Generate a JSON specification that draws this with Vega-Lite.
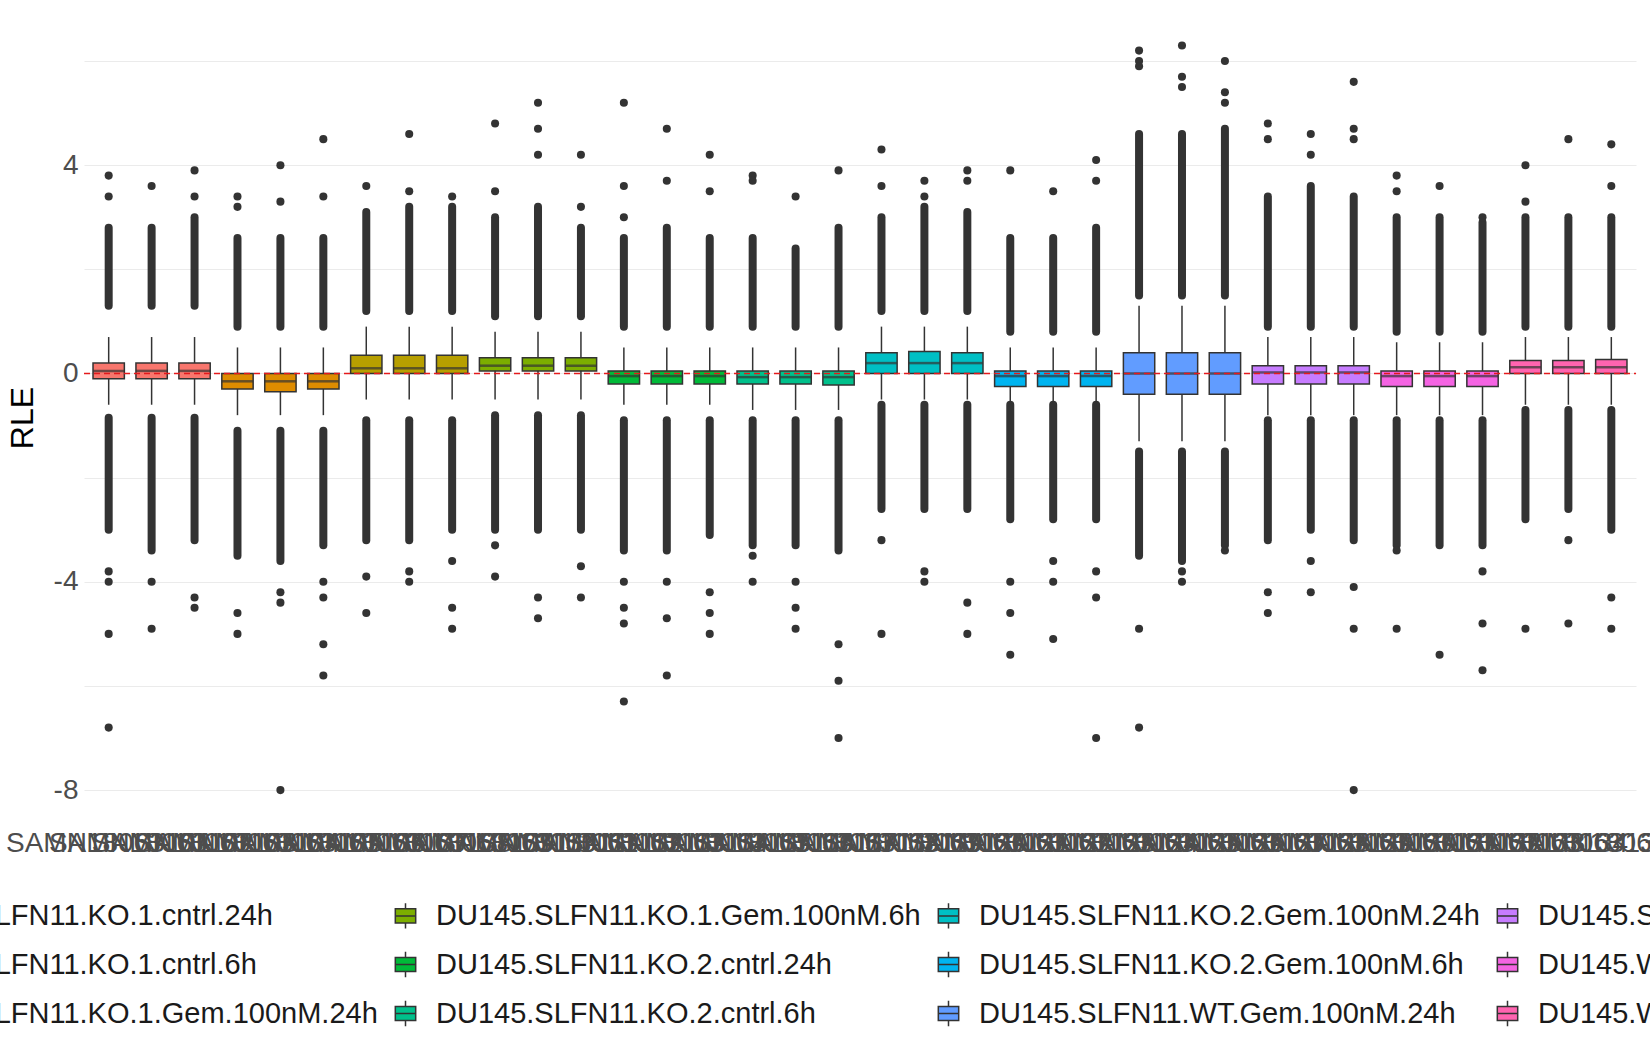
{
  "$schema": "https://vega.github.io/schema/vega-lite/v6.json",
  "width": 1552,
  "height": 815,
  "autosize": {"type": "none"},
  "padding": {"left": 84, "top": 10, "right": 14, "bottom": 225},
  "background": "#ffffff",
  "config": {
    "font": "Liberation Sans",
    "view": {"stroke": null},
    "axis": {"gridColor": "#EBEBEB", "gridWidth": 1.2, "domain": false, "ticks": false, "labelFontSize": 28, "labelColor": "#4D4D4D"}
  },
  "datasets": {
    "boxes": [
      {"s":"SAMN18063101","g":"DU145.SLFN11.KO.1.cntrl.24h","q1":-0.1,"med":0.05,"q3":0.2,"wl":-0.6,"wh":0.7,"dl0":-0.85,"dh0":1.3,"dl":-3.0,"dh":2.8},
      {"s":"SAMN18063102","g":"DU145.SLFN11.KO.1.cntrl.24h","q1":-0.1,"med":0.05,"q3":0.2,"wl":-0.6,"wh":0.7,"dl0":-0.85,"dh0":1.3,"dl":-3.4,"dh":2.8},
      {"s":"SAMN18063103","g":"DU145.SLFN11.KO.1.cntrl.24h","q1":-0.1,"med":0.05,"q3":0.2,"wl":-0.6,"wh":0.7,"dl0":-0.85,"dh0":1.3,"dl":-3.2,"dh":3.0},
      {"s":"SAMN18063104","g":"DU145.SLFN11.KO.1.cntrl.6h","q1":-0.3,"med":-0.15,"q3":0.0,"wl":-0.8,"wh":0.5,"dl0":-1.1,"dh0":0.9,"dl":-3.5,"dh":2.6},
      {"s":"SAMN18063105","g":"DU145.SLFN11.KO.1.cntrl.6h","q1":-0.35,"med":-0.15,"q3":0.0,"wl":-0.8,"wh":0.5,"dl0":-1.1,"dh0":0.9,"dl":-3.6,"dh":2.6},
      {"s":"SAMN18063106","g":"DU145.SLFN11.KO.1.cntrl.6h","q1":-0.3,"med":-0.15,"q3":0.0,"wl":-0.8,"wh":0.5,"dl0":-1.1,"dh0":0.9,"dl":-3.3,"dh":2.6},
      {"s":"SAMN18063107","g":"DU145.SLFN11.KO.1.Gem.100nM.24h","q1":0.0,"med":0.1,"q3":0.35,"wl":-0.5,"wh":0.9,"dl0":-0.9,"dh0":1.2,"dl":-3.2,"dh":3.1},
      {"s":"SAMN18063108","g":"DU145.SLFN11.KO.1.Gem.100nM.24h","q1":0.0,"med":0.1,"q3":0.35,"wl":-0.5,"wh":0.9,"dl0":-0.9,"dh0":1.2,"dl":-3.2,"dh":3.2},
      {"s":"SAMN18063109","g":"DU145.SLFN11.KO.1.Gem.100nM.24h","q1":0.0,"med":0.1,"q3":0.35,"wl":-0.5,"wh":0.9,"dl0":-0.9,"dh0":1.2,"dl":-3.0,"dh":3.2},
      {"s":"SAMN18063110","g":"DU145.SLFN11.KO.1.Gem.100nM.6h","q1":0.05,"med":0.15,"q3":0.3,"wl":-0.5,"wh":0.8,"dl0":-0.8,"dh0":1.1,"dl":-3.0,"dh":3.0},
      {"s":"SAMN18063111","g":"DU145.SLFN11.KO.1.Gem.100nM.6h","q1":0.05,"med":0.15,"q3":0.3,"wl":-0.5,"wh":0.8,"dl0":-0.8,"dh0":1.1,"dl":-3.0,"dh":3.2},
      {"s":"SAMN18063112","g":"DU145.SLFN11.KO.1.Gem.100nM.6h","q1":0.05,"med":0.15,"q3":0.3,"wl":-0.5,"wh":0.8,"dl0":-0.8,"dh0":1.1,"dl":-3.0,"dh":2.8},
      {"s":"SAMN18063113","g":"DU145.SLFN11.KO.2.cntrl.24h","q1":-0.2,"med":-0.05,"q3":0.05,"wl":-0.6,"wh":0.5,"dl0":-0.9,"dh0":0.9,"dl":-3.4,"dh":2.6},
      {"s":"SAMN18063114","g":"DU145.SLFN11.KO.2.cntrl.24h","q1":-0.2,"med":-0.05,"q3":0.05,"wl":-0.6,"wh":0.5,"dl0":-0.9,"dh0":0.9,"dl":-3.4,"dh":2.8},
      {"s":"SAMN18063115","g":"DU145.SLFN11.KO.2.cntrl.24h","q1":-0.2,"med":-0.05,"q3":0.05,"wl":-0.6,"wh":0.5,"dl0":-0.9,"dh0":0.9,"dl":-3.1,"dh":2.6},
      {"s":"SAMN18063116","g":"DU145.SLFN11.KO.2.cntrl.6h","q1":-0.2,"med":-0.07,"q3":0.05,"wl":-0.7,"wh":0.5,"dl0":-0.9,"dh0":0.9,"dl":-3.3,"dh":2.6},
      {"s":"SAMN18063117","g":"DU145.SLFN11.KO.2.cntrl.6h","q1":-0.2,"med":-0.07,"q3":0.05,"wl":-0.7,"wh":0.5,"dl0":-0.9,"dh0":0.9,"dl":-3.3,"dh":2.4},
      {"s":"SAMN18063118","g":"DU145.SLFN11.KO.2.cntrl.6h","q1":-0.22,"med":-0.07,"q3":0.05,"wl":-0.7,"wh":0.5,"dl0":-0.9,"dh0":0.9,"dl":-3.4,"dh":2.8},
      {"s":"SAMN18063119","g":"DU145.SLFN11.KO.2.Gem.100nM.24h","q1":0.0,"med":0.2,"q3":0.4,"wl":-0.5,"wh":0.9,"dl0":-0.6,"dh0":1.2,"dl":-2.6,"dh":3.0},
      {"s":"SAMN18063120","g":"DU145.SLFN11.KO.2.Gem.100nM.24h","q1":0.0,"med":0.2,"q3":0.42,"wl":-0.5,"wh":0.9,"dl0":-0.6,"dh0":1.2,"dl":-2.6,"dh":3.2},
      {"s":"SAMN18063121","g":"DU145.SLFN11.KO.2.Gem.100nM.24h","q1":0.0,"med":0.2,"q3":0.4,"wl":-0.5,"wh":0.9,"dl0":-0.6,"dh0":1.2,"dl":-2.6,"dh":3.1},
      {"s":"SAMN18063122","g":"DU145.SLFN11.KO.2.Gem.100nM.6h","q1":-0.25,"med":-0.05,"q3":0.05,"wl":-0.6,"wh":0.5,"dl0":-0.6,"dh0":0.8,"dl":-2.8,"dh":2.6},
      {"s":"SAMN18063123","g":"DU145.SLFN11.KO.2.Gem.100nM.6h","q1":-0.25,"med":-0.05,"q3":0.05,"wl":-0.6,"wh":0.5,"dl0":-0.6,"dh0":0.8,"dl":-2.8,"dh":2.6},
      {"s":"SAMN18063124","g":"DU145.SLFN11.KO.2.Gem.100nM.6h","q1":-0.25,"med":-0.05,"q3":0.05,"wl":-0.6,"wh":0.5,"dl0":-0.6,"dh0":0.8,"dl":-2.8,"dh":2.8},
      {"s":"SAMN18063125","g":"DU145.SLFN11.WT.Gem.100nM.24h","q1":-0.4,"med":0.0,"q3":0.4,"wl":-1.3,"wh":1.3,"dl0":-1.5,"dh0":1.5,"dl":-3.5,"dh":4.6},
      {"s":"SAMN18063126","g":"DU145.SLFN11.WT.Gem.100nM.24h","q1":-0.4,"med":0.0,"q3":0.4,"wl":-1.3,"wh":1.3,"dl0":-1.5,"dh0":1.5,"dl":-3.6,"dh":4.6},
      {"s":"SAMN18063127","g":"DU145.SLFN11.WT.Gem.100nM.24h","q1":-0.4,"med":0.0,"q3":0.4,"wl":-1.3,"wh":1.3,"dl0":-1.5,"dh0":1.5,"dl":-3.3,"dh":4.7},
      {"s":"SAMN18063128","g":"DU145.SLFN11.WT.Gem.100nM.6h","q1":-0.2,"med":0.02,"q3":0.15,"wl":-0.8,"wh":0.7,"dl0":-0.9,"dh0":0.9,"dl":-3.2,"dh":3.4},
      {"s":"SAMN18063129","g":"DU145.SLFN11.WT.Gem.100nM.6h","q1":-0.2,"med":0.02,"q3":0.15,"wl":-0.8,"wh":0.7,"dl0":-0.9,"dh0":0.9,"dl":-3.0,"dh":3.6},
      {"s":"SAMN18063130","g":"DU145.SLFN11.WT.Gem.100nM.6h","q1":-0.2,"med":0.02,"q3":0.15,"wl":-0.8,"wh":0.7,"dl0":-0.9,"dh0":0.9,"dl":-3.2,"dh":3.4},
      {"s":"SAMN18063131","g":"DU145.WT.cntrl.24h","q1":-0.25,"med":-0.05,"q3":0.05,"wl":-0.8,"wh":0.6,"dl0":-0.9,"dh0":0.8,"dl":-3.3,"dh":3.0},
      {"s":"SAMN18063132","g":"DU145.WT.cntrl.24h","q1":-0.25,"med":-0.05,"q3":0.05,"wl":-0.8,"wh":0.6,"dl0":-0.9,"dh0":0.8,"dl":-3.3,"dh":3.0},
      {"s":"SAMN18063133","g":"DU145.WT.cntrl.24h","q1":-0.25,"med":-0.05,"q3":0.05,"wl":-0.8,"wh":0.6,"dl0":-0.9,"dh0":0.8,"dl":-3.3,"dh":2.9},
      {"s":"SAMN18063134","g":"DU145.WT.cntrl.6h","q1":0.0,"med":0.12,"q3":0.25,"wl":-0.6,"wh":0.7,"dl0":-0.7,"dh0":0.9,"dl":-2.8,"dh":3.0},
      {"s":"SAMN18063135","g":"DU145.WT.cntrl.6h","q1":0.0,"med":0.12,"q3":0.25,"wl":-0.6,"wh":0.7,"dl0":-0.7,"dh0":0.9,"dl":-2.6,"dh":3.0},
      {"s":"SAMN18063136","g":"DU145.WT.cntrl.6h","q1":0.0,"med":0.12,"q3":0.27,"wl":-0.6,"wh":0.7,"dl0":-0.7,"dh0":0.9,"dl":-3.0,"dh":3.0}
    ],
    "outliers": [
      {"s":"SAMN18063101","v":3.8},{"s":"SAMN18063101","v":3.4},{"s":"SAMN18063101","v":-3.8},{"s":"SAMN18063101","v":-4.0},{"s":"SAMN18063101","v":-5.0},{"s":"SAMN18063101","v":-6.8},
      {"s":"SAMN18063102","v":3.6},{"s":"SAMN18063102","v":-4.0},{"s":"SAMN18063102","v":-4.9},
      {"s":"SAMN18063103","v":3.9},{"s":"SAMN18063103","v":3.4},{"s":"SAMN18063103","v":-4.3},{"s":"SAMN18063103","v":-4.5},
      {"s":"SAMN18063104","v":3.4},{"s":"SAMN18063104","v":3.2},{"s":"SAMN18063104","v":-4.6},{"s":"SAMN18063104","v":-5.0},
      {"s":"SAMN18063105","v":4.0},{"s":"SAMN18063105","v":3.3},{"s":"SAMN18063105","v":-4.2},{"s":"SAMN18063105","v":-4.4},{"s":"SAMN18063105","v":-8.0},
      {"s":"SAMN18063106","v":4.5},{"s":"SAMN18063106","v":3.4},{"s":"SAMN18063106","v":-4.0},{"s":"SAMN18063106","v":-4.3},{"s":"SAMN18063106","v":-5.2},{"s":"SAMN18063106","v":-5.8},
      {"s":"SAMN18063107","v":3.6},{"s":"SAMN18063107","v":-3.9},{"s":"SAMN18063107","v":-4.6},
      {"s":"SAMN18063108","v":4.6},{"s":"SAMN18063108","v":3.5},{"s":"SAMN18063108","v":-3.8},{"s":"SAMN18063108","v":-4.0},
      {"s":"SAMN18063109","v":3.4},{"s":"SAMN18063109","v":-3.6},{"s":"SAMN18063109","v":-4.5},{"s":"SAMN18063109","v":-4.9},
      {"s":"SAMN18063110","v":4.8},{"s":"SAMN18063110","v":3.5},{"s":"SAMN18063110","v":-3.3},{"s":"SAMN18063110","v":-3.9},
      {"s":"SAMN18063111","v":5.2},{"s":"SAMN18063111","v":4.7},{"s":"SAMN18063111","v":4.2},{"s":"SAMN18063111","v":-4.3},{"s":"SAMN18063111","v":-4.7},
      {"s":"SAMN18063112","v":4.2},{"s":"SAMN18063112","v":3.2},{"s":"SAMN18063112","v":-3.7},{"s":"SAMN18063112","v":-4.3},
      {"s":"SAMN18063113","v":5.2},{"s":"SAMN18063113","v":3.6},{"s":"SAMN18063113","v":3.0},{"s":"SAMN18063113","v":-4.0},{"s":"SAMN18063113","v":-4.5},{"s":"SAMN18063113","v":-4.8},{"s":"SAMN18063113","v":-6.3},
      {"s":"SAMN18063114","v":4.7},{"s":"SAMN18063114","v":3.7},{"s":"SAMN18063114","v":-4.0},{"s":"SAMN18063114","v":-4.7},{"s":"SAMN18063114","v":-5.8},
      {"s":"SAMN18063115","v":4.2},{"s":"SAMN18063115","v":3.5},{"s":"SAMN18063115","v":-4.2},{"s":"SAMN18063115","v":-4.6},{"s":"SAMN18063115","v":-5.0},
      {"s":"SAMN18063116","v":3.8},{"s":"SAMN18063116","v":3.7},{"s":"SAMN18063116","v":-3.5},{"s":"SAMN18063116","v":-4.0},
      {"s":"SAMN18063117","v":3.4},{"s":"SAMN18063117","v":-4.0},{"s":"SAMN18063117","v":-4.5},{"s":"SAMN18063117","v":-4.9},
      {"s":"SAMN18063118","v":3.9},{"s":"SAMN18063118","v":-5.2},{"s":"SAMN18063118","v":-5.9},{"s":"SAMN18063118","v":-7.0},
      {"s":"SAMN18063119","v":4.3},{"s":"SAMN18063119","v":3.6},{"s":"SAMN18063119","v":-3.2},{"s":"SAMN18063119","v":-5.0},
      {"s":"SAMN18063120","v":3.7},{"s":"SAMN18063120","v":3.4},{"s":"SAMN18063120","v":-3.8},{"s":"SAMN18063120","v":-4.0},
      {"s":"SAMN18063121","v":3.9},{"s":"SAMN18063121","v":3.7},{"s":"SAMN18063121","v":-4.4},{"s":"SAMN18063121","v":-5.0},
      {"s":"SAMN18063122","v":3.9},{"s":"SAMN18063122","v":-4.0},{"s":"SAMN18063122","v":-4.6},{"s":"SAMN18063122","v":-5.4},
      {"s":"SAMN18063123","v":3.5},{"s":"SAMN18063123","v":-3.6},{"s":"SAMN18063123","v":-4.0},{"s":"SAMN18063123","v":-5.1},
      {"s":"SAMN18063124","v":4.1},{"s":"SAMN18063124","v":3.7},{"s":"SAMN18063124","v":-3.8},{"s":"SAMN18063124","v":-4.3},{"s":"SAMN18063124","v":-7.0},
      {"s":"SAMN18063125","v":6.2},{"s":"SAMN18063125","v":6.0},{"s":"SAMN18063125","v":5.9},{"s":"SAMN18063125","v":-4.9},{"s":"SAMN18063125","v":-6.8},
      {"s":"SAMN18063126","v":6.3},{"s":"SAMN18063126","v":5.7},{"s":"SAMN18063126","v":5.5},{"s":"SAMN18063126","v":-3.8},{"s":"SAMN18063126","v":-4.0},
      {"s":"SAMN18063127","v":6.0},{"s":"SAMN18063127","v":5.4},{"s":"SAMN18063127","v":5.2},{"s":"SAMN18063127","v":-3.4},
      {"s":"SAMN18063128","v":4.8},{"s":"SAMN18063128","v":4.5},{"s":"SAMN18063128","v":-4.2},{"s":"SAMN18063128","v":-4.6},
      {"s":"SAMN18063129","v":4.6},{"s":"SAMN18063129","v":4.2},{"s":"SAMN18063129","v":-3.6},{"s":"SAMN18063129","v":-4.2},
      {"s":"SAMN18063130","v":5.6},{"s":"SAMN18063130","v":4.7},{"s":"SAMN18063130","v":4.5},{"s":"SAMN18063130","v":-4.1},{"s":"SAMN18063130","v":-4.9},{"s":"SAMN18063130","v":-8.0},
      {"s":"SAMN18063131","v":3.8},{"s":"SAMN18063131","v":3.5},{"s":"SAMN18063131","v":-3.4},{"s":"SAMN18063131","v":-4.9},
      {"s":"SAMN18063132","v":3.6},{"s":"SAMN18063132","v":-5.4},
      {"s":"SAMN18063133","v":3.0},{"s":"SAMN18063133","v":-3.8},{"s":"SAMN18063133","v":-4.8},{"s":"SAMN18063133","v":-5.7},
      {"s":"SAMN18063134","v":4.0},{"s":"SAMN18063134","v":3.3},{"s":"SAMN18063134","v":-4.9},
      {"s":"SAMN18063135","v":4.5},{"s":"SAMN18063135","v":-3.2},{"s":"SAMN18063135","v":-4.8},
      {"s":"SAMN18063136","v":4.4},{"s":"SAMN18063136","v":3.6},{"s":"SAMN18063136","v":-4.3},{"s":"SAMN18063136","v":-4.9}
    ],
    "zero": [{"y": 0}]
  },
  "encoding": {
    "x": {
      "field": "s", "type": "nominal", "sort": null,
      "scale": {"paddingInner": 0.27, "paddingOuter": 0.21},
      "axis": {"title": null, "labelAngle": 0, "labelColor": "#4D4D4D", "labelPadding": 4, "labelOverlap": false, "labelLimit": 0}
    }
  },
  "layer": [
    {
      "data": {"name": "boxes"},
      "mark": {"type": "rule", "strokeWidth": 8, "strokeCap": "round", "color": "#333333"},
      "encoding": {
        "y": {"field": "dh0", "type": "quantitative", "scale": {"domain": [-8.67, 6.98], "nice": false, "zero": false},
          "axis": {"title": "RLE", "titleFontSize": 32, "titleFontWeight": "normal", "titleColor": "#000000", "titlePadding": 14,
            "values": [-8, -6, -4, -2, 0, 2, 4, 6], "labelExpr": "datum.value % 4 == 0 ? replace(datum.label, '−', '-') : ''", "labelPadding": 6}},
        "y2": {"field": "dh"}
      }
    },
    {
      "data": {"name": "boxes"},
      "mark": {"type": "rule", "strokeWidth": 8, "strokeCap": "round", "color": "#333333"},
      "encoding": {"y": {"field": "dl0", "type": "quantitative"}, "y2": {"field": "dl"}}
    },
    {
      "data": {"name": "boxes"},
      "mark": {"type": "rule", "strokeWidth": 1.5, "color": "#333333"},
      "encoding": {"y": {"field": "wl", "type": "quantitative"}, "y2": {"field": "wh"}}
    },
    {
      "data": {"name": "outliers"},
      "mark": {"type": "point", "filled": true, "size": 65, "opacity": 1, "color": "#333333"},
      "encoding": {"y": {"field": "v", "type": "quantitative"}}
    },
    {
      "data": {"name": "boxes"},
      "mark": {"type": "bar", "stroke": "#333333", "strokeWidth": 1.5},
      "encoding": {
        "y": {"field": "q1", "type": "quantitative"},
        "y2": {"field": "q3"},
        "color": {
          "field": "g", "type": "nominal",
          "scale": {
            "domain": ["DU145.SLFN11.KO.1.cntrl.24h", "DU145.SLFN11.KO.1.Gem.100nM.6h", "DU145.SLFN11.KO.2.Gem.100nM.24h", "DU145.SLFN11.WT.Gem.100nM.6h",
                       "DU145.SLFN11.KO.1.cntrl.6h", "DU145.SLFN11.KO.2.cntrl.24h", "DU145.SLFN11.KO.2.Gem.100nM.6h", "DU145.WT.cntrl.24h",
                       "DU145.SLFN11.KO.1.Gem.100nM.24h", "DU145.SLFN11.KO.2.cntrl.6h", "DU145.SLFN11.WT.Gem.100nM.24h", "DU145.WT.cntrl.6h"],
            "range": ["#F8766D", "#7CAE00", "#00BFC4", "#C77CFF",
                      "#DE8C00", "#00BA38", "#00B4F0", "#F564E3",
                      "#B79F00", "#00C08B", "#619CFF", "#FF64B0"]
          },
          "legend": {
            "title": null, "orient": "none", "legendX": -252, "legendY": 891, "columns": 4, "direction": "horizontal",
            "labelFontSize": 29, "labelColor": "#1A1A1A", "labelLimit": 800, "columnPadding": 13, "rowPadding": 16,
            "symbolType": "M-0.8,-0.55H0.8V0.55H-0.8Z M-0.8,0H0.8 M0,-0.55V-1 M0,0.55V1",
            "symbolSize": 650, "symbolStrokeColor": "#333333", "symbolStrokeWidth": 1.5, "symbolOpacity": 1, "labelOffset": 16
          }
        }
      }
    },
    {
      "data": {"name": "boxes"},
      "mark": {"type": "tick", "color": "#333333", "thickness": 2.5, "size": 31, "orient": "horizontal"},
      "encoding": {"y": {"field": "med", "type": "quantitative"}}
    },
    {
      "data": {"name": "zero"},
      "mark": {"type": "rule", "color": "#E41A1C", "strokeDash": [6, 4], "strokeWidth": 1.5},
      "encoding": {"y": {"field": "y", "type": "quantitative"}, "x": {"value": 0}, "x2": {"value": 1552}}
    }
  ]
}
